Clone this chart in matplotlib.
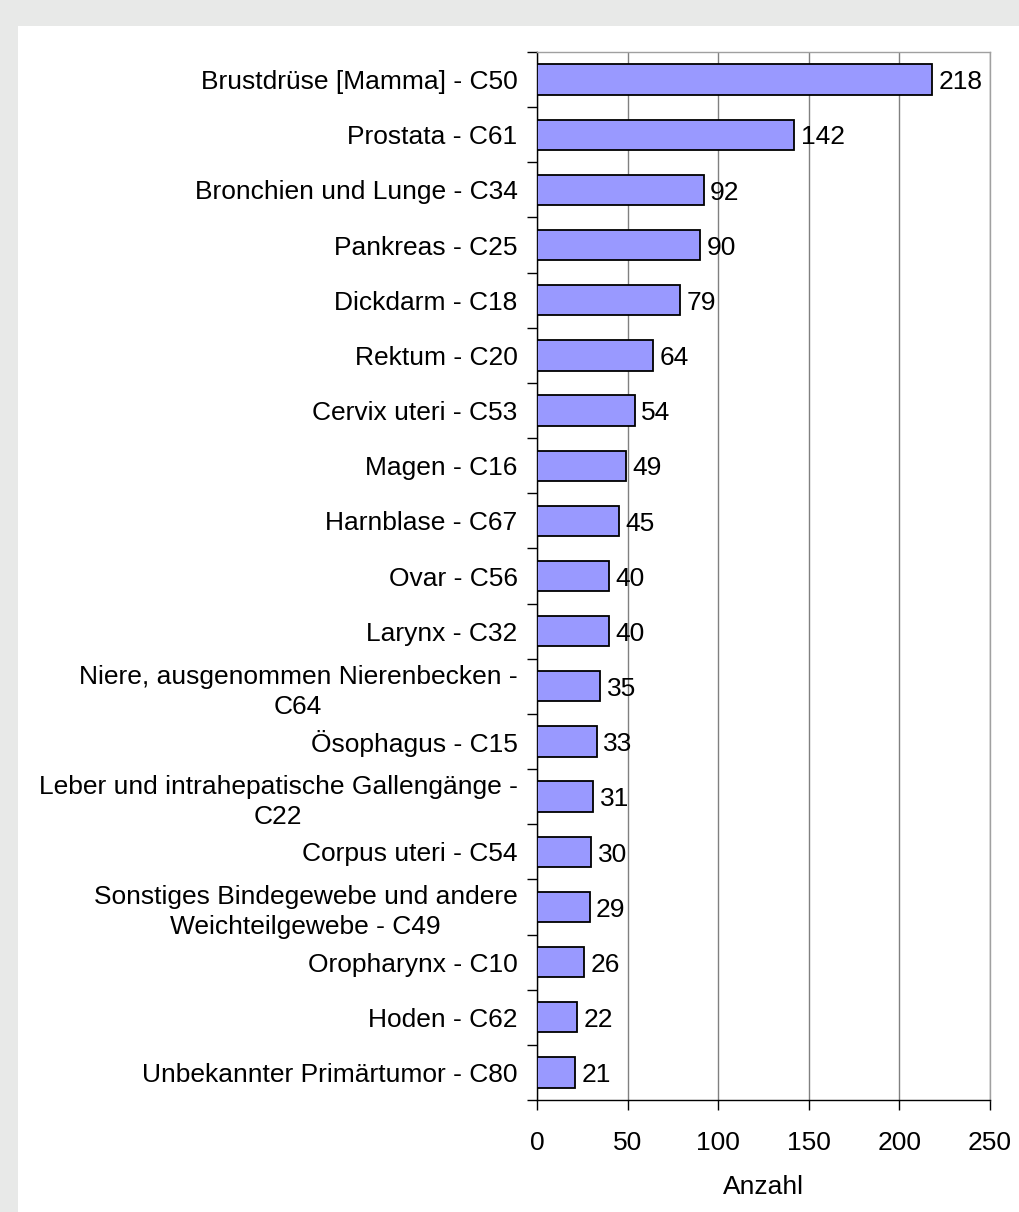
import numpy as np
import matplotlib.pyplot as plt
from matplotlib.patches import Rectangle

# --- Data ---
categories = [
    "Brustdrüse [Mamma] - C50",
    "Prostata - C61",
    "Bronchien und Lunge - C34",
    "Pankreas - C25",
    "Dickdarm - C18",
    "Rektum - C20",
    "Cervix uteri - C53",
    "Magen - C16",
    "Harnblase - C67",
    "Ovar - C56",
    "Larynx - C32",
    "Niere, ausgenommen Nierenbecken -\nC64",
    "Ösophagus - C15",
    "Leber und intrahepatische Gallengänge -\nC22",
    "Corpus uteri - C54",
    "Sonstiges Bindegewebe und andere\nWeichteilgewebe - C49",
    "Oropharynx - C10",
    "Hoden - C62",
    "Unbekannter Primärtumor - C80",
]
values = [218, 142, 92, 90, 79, 64, 54, 49, 45, 40, 40, 35, 33, 31, 30, 29, 26, 22, 21]
xticks = [0, 50, 100, 150, 200, 250]

plt.rcParams['font.family'] = ['Liberation Sans', 'DejaVu Sans']
fs = 19

fig = plt.figure(figsize=(10.19, 12.12), dpi=100, facecolor='#e8e9e8')
# white panel inside the gray frame
fig.patches.append(Rectangle((18 / 1019, 0), 1, (1212 - 26) / 1212,
                             transform=fig.transFigure, facecolor='white',
                             edgecolor='none', zorder=-10))

ax = fig.add_axes([537 / 1019, 1 - 1100 / 1212, (990 - 537) / 1019, (1100 - 52) / 1212])
ax.set_facecolor('white')

n = len(categories)
y = np.arange(n)
ax.barh(y, values, height=0.55, color='#9999ff', edgecolor='black', linewidth=1.3, zorder=3)

for yi, v in zip(y, values):
    ax.text(v + 3.5, yi + 0.05, str(v), va='center', ha='left', fontsize=fs, zorder=4)

ax.set_ylim(n - 0.5, -0.5)
ax.set_xlim(0, 250)
ax.set_yticks(y)
ax.set_yticklabels(categories, fontsize=fs, multialignment='center', linespacing=1.3)
ax.set_yticks(np.arange(n + 1) - 0.5, minor=True)
ax.tick_params(axis='y', which='major', length=0, pad=14)
ax.tick_params(axis='y', which='minor', length=7, width=1, direction='out')

ax.set_xticks(xticks)
ax.set_xticklabels([str(t) for t in xticks], fontsize=fs)
ax.tick_params(axis='x', length=7, width=1, pad=15, direction='out')
ax.set_xlabel("Anzahl", fontsize=fs, labelpad=15)

ax.grid(axis='x', color='#808080', linewidth=1, zorder=0)
ax.set_axisbelow(True)
for side in ['top', 'right']:
    ax.spines[side].set_color('#a0a0a0')
    ax.spines[side].set_linewidth(1)
for side in ['left', 'bottom']:
    ax.spines[side].set_color('black')
    ax.spines[side].set_linewidth(1)

fig.savefig("out.png", dpi=100, facecolor=fig.get_facecolor())
